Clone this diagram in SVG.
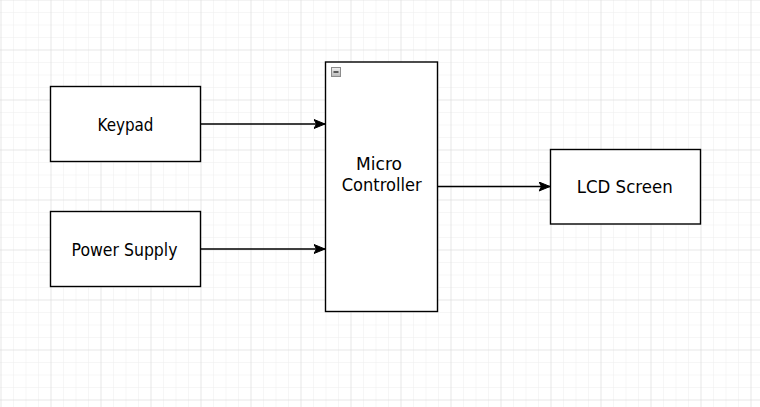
<svg xmlns="http://www.w3.org/2000/svg" width="760" height="407" viewBox="0 0 760 407">
  <style>
    .node { fill: #ffffff; stroke: #000000; stroke-width: 1.4; }
    .label { font-family: "DejaVu Sans", "Noto Sans", sans-serif; font-size: 17px; fill: #000000; text-anchor: middle; }
    .edge { fill: none; stroke: #000000; stroke-width: 1.3; }
  </style>
  <defs>
    <pattern id="minor" width="12.5" height="12.5" patternUnits="userSpaceOnUse" x="0.5" y="-0.5">
      <path d="M 0 0 L 0 12.5 M 0 0 L 12.5 0" fill="none" stroke="#eeeeee" stroke-width="1"/>
    </pattern>
    <pattern id="major" width="50" height="50" patternUnits="userSpaceOnUse" x="0.5" y="-0.5">
      <path d="M 0 0 L 0 50 M 0 0 L 50 0" fill="none" stroke="#dadada" stroke-width="1"/>
    </pattern>
    <marker id="arrow" markerWidth="13" markerHeight="11" refX="11.5" refY="5" orient="auto" markerUnits="userSpaceOnUse">
      <path d="M 0.5 0.5 L 11.5 5 L 0.5 9.5 L 3 5 Z" fill="#000000" stroke="#000000" stroke-width="1" stroke-linejoin="miter"/>
    </marker>
    <linearGradient id="iconGrad" x1="0" y1="0" x2="0" y2="1">
      <stop offset="0" stop-color="#f2f2f2"/>
      <stop offset="1" stop-color="#b8b8b8"/>
    </linearGradient>
  </defs>

  <rect x="0" y="0" width="760" height="407" fill="#ffffff"/>
  <rect x="0" y="0" width="760" height="407" fill="url(#minor)"/>
  <rect x="0" y="0" width="760" height="407" fill="url(#major)"/>

  <g id="connectors">
    <path class="edge" d="M 200 124 L 325 124" marker-end="url(#arrow)"/>
    <path class="edge" d="M 200 249 L 325 249" marker-end="url(#arrow)"/>
    <path class="edge" d="M 437.5 186.5 L 550 186.5" marker-end="url(#arrow)"/>
  </g>

  <g id="keypad">
    <rect class="node" x="50.5" y="86.5" width="150" height="75"/>
    <text class="label" x="125.5" y="131" textLength="56" lengthAdjust="spacingAndGlyphs">Keypad</text>
  </g>

  <g id="power-supply">
    <rect class="node" x="50.5" y="211.5" width="150" height="75"/>
    <text class="label" x="124.5" y="256" textLength="106" lengthAdjust="spacingAndGlyphs">Power Supply</text>
  </g>

  <g id="micro-controller">
    <rect class="node" x="325.5" y="62" width="112" height="249.5"/>
    <rect x="331.5" y="67.5" width="9" height="9" fill="url(#iconGrad)" stroke="#8c8c8c" stroke-width="1"/>
    <line x1="333.5" y1="72" x2="338.5" y2="72" stroke="#333333" stroke-width="1.5"/>
    <text class="label" x="379" y="170" textLength="46" lengthAdjust="spacingAndGlyphs">Micro</text>
    <text class="label" x="381.7" y="191" textLength="80" lengthAdjust="spacingAndGlyphs">Controller</text>
  </g>

  <g id="lcd-screen">
    <rect class="node" x="550.5" y="149.5" width="150" height="74.5"/>
    <text class="label" x="624.7" y="193" textLength="96" lengthAdjust="spacingAndGlyphs">LCD Screen</text>
  </g>
</svg>
